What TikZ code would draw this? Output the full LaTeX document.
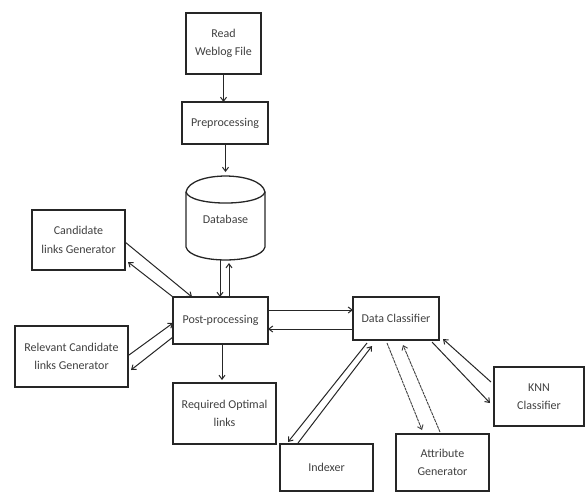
\documentclass[tikz,border=0pt]{standalone}
\usepackage{fontspec}
\setmainfont{Carlito}
\usetikzlibrary{arrows.meta,calc}
\begin{document}
\begin{tikzpicture}[x=1pt,y=-1pt,
  box/.style={draw=black!85,line width=1.3pt,inner sep=0pt,outer sep=0pt,align=center,
    text=black!75,font={\fontsize{12}{18.5}\selectfont}},
  dbnode/.style={inner sep=0pt,outer sep=0pt,align=center,text=black!75,font={\fontsize{12}{18.5}\selectfont}},
  arr/.style={draw=black!85,line width=1pt,-{Straight Barb[length=4pt,width=6pt]}},
  darr/.style={draw=black!75,line width=0.9pt,dash pattern=on 3pt off 0.7pt,-{Straight Barb[length=4pt,width=6pt]}}]
\useasboundingbox (0,0) rectangle (586,493);
% nodes
\node[box,minimum width=75pt,minimum height=61pt] (read) at (223.5,43.5) {Read\\Weblog File};
\node[box,minimum width=86pt,minimum height=42pt] (pre) at (225,123) {Preprocessing};
\node[dbnode,minimum width=79pt,minimum height=84pt] (db) at (225.5,218) {\raisebox{-12pt}{Database}};
\node[box,minimum width=95pt,minimum height=47pt] (pp) at (220.5,320.5) {Post-processing};
\node[box,minimum width=93pt,minimum height=60pt] (cand) at (78.5,240) {Candidate\\links Generator};
\node[box,minimum width=113pt,minimum height=61pt] (rel) at (71.5,356.5) {Relevant Candidate\\links Generator};
\node[box,minimum width=103pt,minimum height=61pt] (req) at (224.5,413.5) {Required Optimal\\links};
\node[box,minimum width=86pt,minimum height=43pt] (dc) at (396,318.5) {Data Classifier};
\node[box,minimum width=90pt,minimum height=59pt] (knn) at (539,396.5) {KNN\\Classifier};
\node[box,minimum width=93pt,minimum height=47pt] (idx) at (326.5,467.5) {Indexer};
\node[box,minimum width=93pt,minimum height=57pt] (ag) at (442.5,462.5) {Attribute\\Generator};
% database cylinder outline
\draw[draw=black!85,line width=1.3pt]
  (186,192) .. controls (190,170.7) and (261,170.7) .. (265,192)
  -- (265,247) .. controls (261,264.3) and (190,264.3) .. (186,247) -- cycle;
\draw[draw=black!85,line width=1.3pt]
  (186,192) .. controls (190,206.7) and (261,206.7) .. (265,192);
% connectors
\draw[arr] (read.south) -- (read.south |- pre.north);
\draw[arr] ([xshift=0.5pt]pre.south) -- ([yshift=4pt]db.north);
\draw[arr] ([xshift=-5.5pt]db.south) -- ([xshift=-0.5pt]pp.north);
\draw[arr] ([xshift=8.5pt]pp.north) -- ([xshift=3.5pt,yshift=-3pt]db.south);
\draw[arr] ([yshift=-2pt]cand.east) -- ([xshift=19pt]pp.north west);
\draw[arr] (pp.north west) -- ([xshift=3pt,yshift=-22pt]cand.east);
\draw[arr] ([xshift=1pt,yshift=1.5pt]rel.east) -- ([yshift=-2.5pt]pp.west);
\draw[arr] ([yshift=-16.5pt]pp.west) -- ([xshift=3pt,yshift=-13.5pt]rel.east);
\draw[arr] ([xshift=1.5pt]pp.south) -- ([xshift=-2.5pt,yshift=3pt]req.north);
\draw[arr] ([yshift=10.5pt]pp.east) -- ([yshift=8.5pt]dc.west);
\draw[arr] ([yshift=-10.5pt]dc.west) -- ([yshift=-8.5pt]pp.east);
\draw[arr] ([xshift=-7pt,yshift=-2pt]dc.south east) -- ([xshift=-4pt,yshift=-6.5pt]knn.west);
\draw[arr] ([xshift=-3pt,yshift=14.5pt]knn.west) -- ([xshift=4pt,yshift=1pt]dc.south east);
\draw[arr] ([xshift=14pt,yshift=-3pt]dc.south west) -- ([xshift=8pt,yshift=2pt]idx.north west);
\draw[arr] ([xshift=18pt,yshift=1pt]idx.north west) -- ([xshift=19pt,yshift=-6pt]dc.south west);
\draw[darr] ([xshift=34pt,yshift=-3pt]dc.south west) -- ([xshift=26pt,yshift=4pt]ag.north west);
\draw[darr] ([xshift=44pt,yshift=2pt]ag.north west) -- ([xshift=50pt,yshift=-5pt]dc.south west);
\end{tikzpicture}
\end{document}
